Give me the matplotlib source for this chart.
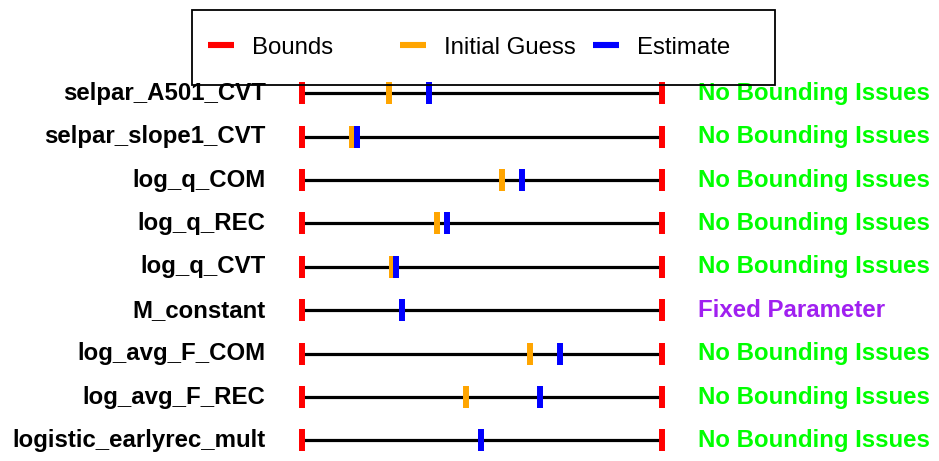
import matplotlib.pyplot as plt
from matplotlib.lines import Line2D
from matplotlib.patches import Rectangle

plt.rcParams['font.family'] = ['Liberation Sans', 'DejaVu Sans']

# parameter summary (values scaled to the bound range, lower=0, upper=1)
params = ["selpar_A501_CVT", "selpar_slope1_CVT", "log_q_COM", "log_q_REC",
          "log_q_CVT", "M_constant", "log_avg_F_COM", "log_avg_F_REC",
          "logistic_earlyrec_mult"]
lower = [0, 0, 0, 0, 0, 0, 0, 0, 0]
upper = [1, 1, 1, 1, 1, 1, 1, 1, 1]
init_guess = [0.242, 0.139, 0.556, 0.374, 0.250, 0.279, 0.634, 0.456, 0.497]
estimate = [0.352, 0.152, 0.612, 0.402, 0.261, 0.279, 0.716, 0.662, 0.497]
status = ["No Bounding Issues", "No Bounding Issues", "No Bounding Issues",
          "No Bounding Issues", "No Bounding Issues", "Fixed Parameter",
          "No Bounding Issues", "No Bounding Issues", "No Bounding Issues"]
status_col = {"No Bounding Issues": "#00FF00", "Fixed Parameter": "#A020F0"}
leg_labels = ["Bounds", "Initial Guess", "Estimate"]
leg_colors = ["red", "orange", "blue"]

W, H = 939, 461
fig = plt.figure(figsize=(W / 100, H / 100), dpi=100)
ax = fig.add_axes([0, 0, 1, 1])

# map pixels -> data so the bound range sits at 302..662 px
x0, x1 = 301.7, 662.3
span = x1 - x0
row0, dy = 93.3, 43.4
ax.set_xlim(-x0 / span, (W - x0) / span)
ax.set_ylim((H - row0) / dy, -row0 / dy)
ax.axis('off')

fs = 17.3
ms = 16
mew = 4.3
for i, p in enumerate(params):
    ax.plot([lower[i], upper[i]], [i, i], color='black', lw=2.3, zorder=1)
    ax.plot([lower[i], upper[i]], [i, i], ls='none', marker='|', ms=ms, mew=mew,
            color='red', zorder=2)
    ax.plot(init_guess[i], i, marker='|', ms=ms, mew=mew, color='orange', zorder=3)
    ax.plot(estimate[i], i, marker='|', ms=ms, mew=mew, color='blue', zorder=4)
    ax.text(-0.1, i, p, ha='right', va='center', fontsize=fs, fontweight='bold')
    ax.text(1.1, i, status[i], ha='left', va='center', fontsize=fs,
            fontweight='bold', color=status_col[status[i]])

# legend box + three evenly spaced entries
fig.patches.append(Rectangle((192 / W, 1 - 85 / H), 583 / W, 75 / H,
                             transform=fig.transFigure, fill=False,
                             edgecolor='black', lw=1.3))
leg_x = [208, 400, 593]
for x, lab, c in zip(leg_x, leg_labels, leg_colors):
    h = Line2D([], [], color=c, lw=4.4, solid_capstyle='butt')
    fig.legend([h], [lab], loc='center left',
               bbox_to_anchor=(x / W, 1 - 47.5 / H), fontsize=fs, frameon=False,
               handlelength=1.08, handletextpad=0.75, borderpad=0,
               borderaxespad=0)

fig.savefig("out.png", dpi=100)
